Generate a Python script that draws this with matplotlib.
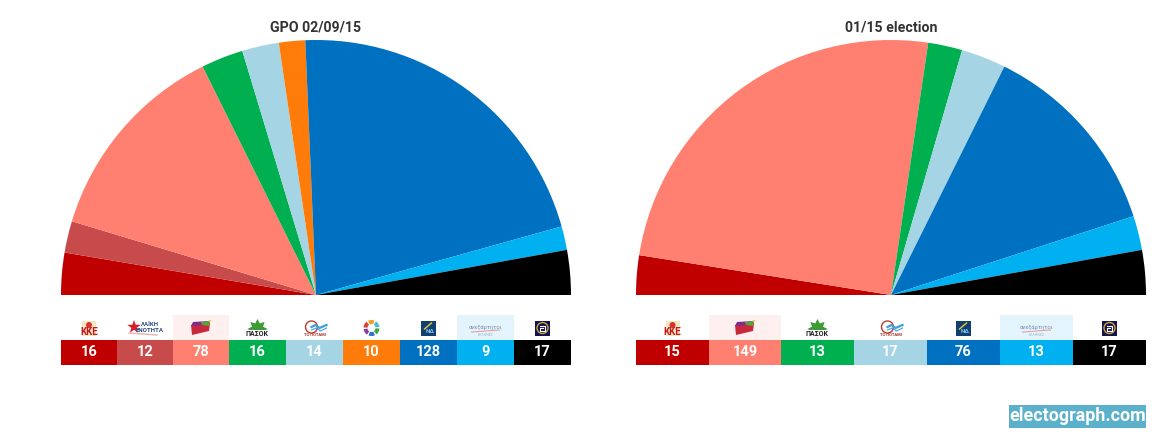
import matplotlib
matplotlib.use("Agg")
import matplotlib.pyplot as plt
from matplotlib.patches import Rectangle, Polygon, Circle, Wedge
import numpy as np

plt.rcParams['font.family'] = ['Roboto', 'DejaVu Sans']

W, H = 1166, 441

parties_gpo = ["KKE", "LAE", "SYRIZA", "PASOK", "POTAMI", "EK", "ND", "ANEL", "XA"]
seats_gpo = [16, 12, 78, 16, 14, 10, 128, 9, 17]

parties_jan = ["KKE", "SYRIZA", "PASOK", "POTAMI", "ND", "ANEL", "XA"]
seats_jan = [15, 149, 13, 17, 76, 13, 17]

colors = {
    "KKE": "#c00000",
    "LAE": "#c84b4b",
    "SYRIZA": "#ff8070",
    "PASOK": "#00b050",
    "POTAMI": "#a5d5e4",
    "EK": "#ff7c0a",
    "ND": "#0070c0",
    "ANEL": "#00b0f0",
    "XA": "#000000",
}
highlight = {"SYRIZA": "#fdf0ee", "ANEL": "#e3f4fc"}


def logo(ax, name, x):
    y = 328
    if name == "KKE":
        ax.add_patch(Rectangle((x - 7, y - 7), 14, 15, fc="#f3e6c4", ec="none"))
        ax.add_patch(Circle((x, y - 3), 3, fc="#d8342a", ec="none"))
        ax.text(x, y + 4, "KKE", color="#c8161d", fontsize=7, fontweight="bold", ha="center", va="center")
    elif name == "LAE":
        ax.plot([x - 16, x + 12], [y + 5, y + 7], color="#e8b0b0", lw=1)
        a = np.linspace(0, 2 * np.pi, 11)[:-1] - np.pi / 2
        r = np.where(np.arange(10) % 2 == 0, 7, 2.8)
        ax.add_patch(Polygon(np.c_[x - 11 + r * np.cos(a), y - 1 + r * np.sin(a)], fc="#d81e28", ec="none"))
        ax.text(x + 5, y - 3, "ΛΑΪΚΗ", color="#2c4a80", fontsize=4.4, fontweight="bold", ha="center", va="center")
        ax.text(x + 5, y + 2.5, "ΕΝΟΤΗΤΑ", color="#2c4a80", fontsize=4.4, fontweight="bold", ha="center", va="center")
    elif name == "SYRIZA":
        ax.add_patch(Polygon([(x - 10, y - 3), (x + 9, y - 5), (x + 8, y + 3), (x - 9, y + 7)], fc="#c8283c", ec="none"))
        ax.add_patch(Polygon([(x - 8, y - 6), (x + 9, y - 7), (x + 9, y - 4), (x - 10, y - 2)], fc="#7a2f90", ec="none"))
        ax.add_patch(Polygon([(x, y - 6), (x + 9, y - 7), (x + 8, y - 2), (x + 1, y - 3)], fc="#5aa040", ec="none"))
        ax.add_patch(Circle((x + 9, y - 7), 1.2, fc="#f0d040", ec="none"))
    elif name == "PASOK":
        a = np.linspace(0, 2 * np.pi, 17)[:-1]
        r = np.where(np.arange(16) % 2 == 0, 10, 6)
        ax.add_patch(Polygon(np.c_[x + r * np.cos(a), y + 1 + r * np.sin(a)], closed=True, fc="#3f9a35", ec="none"))
        ax.add_patch(Rectangle((x - 11, y + 2), 22, 8, fc="white", ec="none"))
        ax.text(x, y + 5.5, "ΠΑΣΟΚ", color="#222222", fontsize=5, fontweight="bold", ha="center", va="center")
    elif name == "POTAMI":
        ax.add_patch(Circle((x - 3, y - 1), 6, fc="none", ec="#c03a30", lw=1))
        ax.plot([x - 3, x + 1, x + 5, x + 12], [y - 1, y - 3, y, y - 3], color="#3f9fd8", lw=1.6)
        ax.plot([x - 3, x + 2, x + 6, x + 12], [y + 2, y, y + 3, y], color="#3f9fd8", lw=0.8)
        ax.text(x, y + 7, "ΤΟ ΠΟΤΑΜΙ", color="#b03030", fontsize=3, fontweight="bold", ha="center", va="center")
    elif name == "EK":
        for ang, c in zip(range(0, 360, 60), ["#38a83c", "#2f6fc8", "#8a3ea0", "#d8403a", "#f0a020", "#50b8d8"]):
            ax.add_patch(Wedge((x, y), 8, ang + 4, ang + 52, width=4, fc=c, ec="none"))
    elif name == "ND":
        ax.add_patch(Rectangle((x - 7.5, y - 7.5), 15, 15, fc="#123f70", ec="none"))
        ax.plot([x - 4, x + 3], [y + 1, y - 5], color="#e8c83a", lw=1)
        ax.text(x + 2, y + 3.5, "ΝΔ", color="#7fc8ee", fontsize=4.5, fontweight="bold", ha="center", va="center")
    elif name == "ANEL":
        ax.text(x, y - 1, "ανεξάρτητοι", color="#7a8cb4", fontsize=4.2, ha="center", va="center")
        ax.plot([x - 14, x + 14], [y + 4, y + 2], color="#e8a0a4", lw=0.8)
        ax.text(x, y + 7, "ΕΛΛΗΝΕΣ", color="#9fb8d0", fontsize=2.6, ha="center", va="center")
    elif name == "XA":
        ax.add_patch(Rectangle((x - 7.5, y - 7.5), 15, 15, fc="#141450", ec="none"))
        ax.add_patch(Circle((x, y), 5.5, fc="none", ec="#c8a83a", lw=1))
        ax.plot([x - 2.5, x + 2.5, x + 2.5, x - 2.5, x - 2.5, x], [y - 2.5, y - 2.5, y + 2.5, y + 2.5, y, y], color="white", lw=0.8)


def draw_panel(fig, ax, parties, seats, title, left, edges):
    width = 510
    radius_px = width / 2
    pie_ax = fig.add_axes([left / W, (H - 295) / H, width / W, radius_px / H])
    # half circle, the lower half is left empty
    vals = seats + [sum(seats)]
    cols = [colors[p] for p in parties] + ["none"]
    pie_ax.pie(vals, colors=cols, startangle=180, counterclock=False, radius=1, frame=True)
    pie_ax.set_xlim(-1, 1)
    pie_ax.set_ylim(0, 1)
    pie_ax.set_aspect("auto")
    pie_ax.axis("off")

    cx = left + radius_px
    ax.text(cx, 27, title, fontsize=10.2, fontweight="bold", color="#333333", ha="center", va="center")

    xs = np.array(edges[:-1])
    cells = np.diff(edges)
    ax.bar(xs, 25, width=cells, bottom=340, align="edge", color=[colors[p] for p in parties])
    for x, cell, p, s in zip(xs, cells, parties, seats):
        if p in highlight:
            ax.add_patch(Rectangle((x, 315), cell, 25, fc=highlight[p], ec="none"))
        logo(ax, p, x + cell / 2)
        ax.text(x + cell / 2, 352, str(s), color="white", fontsize=10.5, fontweight="bold", ha="center", va="center")


fig = plt.figure(figsize=(W / 100, H / 100), dpi=100)
ax = fig.add_axes([0, 0, 1, 1])
ax.set_xlim(0, W)
ax.set_ylim(H, 0)
ax.axis("off")

draw_panel(fig, ax, parties_gpo, seats_gpo, "GPO 02/09/15", 61,
           [61, 117, 173, 229, 286, 343, 400, 457, 514, 571])
draw_panel(fig, ax, parties_jan, seats_jan, "01/15 election", 636,
           [636, 709, 781, 854, 927, 1000, 1073, 1146])

ax.add_patch(Rectangle((1009, 405), 137, 23, fc="#5bb0cc", ec="none"))
ax.text(1077.5, 416, "electograph.com", color="white", fontsize=12.9, fontweight="bold", ha="center", va="center")

fig.savefig("out.png", dpi=100)
